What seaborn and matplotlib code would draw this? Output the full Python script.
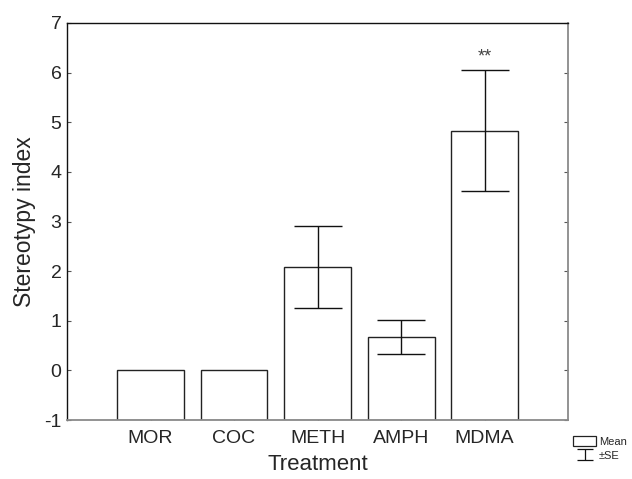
import numpy as np
import pandas as pd
import matplotlib
matplotlib.use('Agg')
import matplotlib.pyplot as plt
import seaborn as sns
from matplotlib.patches import Patch

## Data
treatments = ['MOR', 'COC', 'METH', 'AMPH', 'MDMA']
means = [0.0, 0.0, 2.09, 0.67, 4.83]
se = [0.0, 0.0, 0.83, 0.34, 1.22]
stars = ['', '', '', '', '**']

df = pd.DataFrame({'Treatment': treatments, 'Mean': means, 'SE': se})

sns.set_style('white')
plt.rcParams['font.family'] = ['Liberation Sans', 'DejaVu Sans']
plt.rcParams['axes.unicode_minus'] = False

fig = plt.figure(figsize=(6.32, 4.79), dpi=100)
ax = fig.add_axes([0.106, 0.123, 0.793, 0.829])

sns.barplot(data=df, x='Treatment', y='Mean', color='white', edgecolor='#222222',
            linewidth=1.0, width=0.8, errorbar=None, ax=ax)

## bars start at the bottom of the axis (-1), like the original software
ymin = -1
for p in ax.patches:
    h = p.get_height()
    p.set_y(ymin)
    p.set_height(h - ymin)

idx = np.arange(len(treatments))
has_err = df['SE'] > 0
ax.errorbar(idx[has_err], df['Mean'][has_err], yerr=df['SE'][has_err], fmt='none',
            ecolor='#111111', elinewidth=1.0, capsize=17, capthick=1.0, zorder=5)

for i, s in enumerate(stars):
    if s:
        ax.text(i, means[i] + se[i] + 0.1, s, ha='center', va='bottom', fontsize=13, color='#444444')

ax.set_xlim(-1, 5)
ax.set_ylim(-1, 7)
ax.set_yticks(range(-1, 8))
ax.set_xlabel('Treatment', fontsize=16, labelpad=5)
ax.set_ylabel('Stereotypy index', fontsize=16.5, labelpad=6)
ax.tick_params(axis='both', labelsize=14, direction='in', length=3, width=0.8, color='#555555')
ax.tick_params(axis='y', right=True, left=True, pad=4)
ax.tick_params(axis='x', bottom=True, pad=7)

for side in ['left', 'top']:
    ax.spines[side].set_color('#111111')
    ax.spines[side].set_linewidth(1.0)
for side in ['right', 'bottom']:
    ax.spines[side].set_color('#8a8a8a')
    ax.spines[side].set_linewidth(1.3)

## small legend handle for the error bar symbol
eb_key = ax.errorbar([np.nan], [np.nan], yerr=[1], fmt='none', ecolor='#111111',
                     elinewidth=0.9, capsize=6, capthick=0.9)
handles = [Patch(facecolor='white', edgecolor='#222222', linewidth=0.9), eb_key]
fig.legend(handles, ['Mean', '\u00b1SE'], loc='lower left', bbox_to_anchor=(0.895, 0.022),
           frameon=False, fontsize=8, handlelength=2.0, handleheight=1.05,
           handletextpad=0.3, labelspacing=0.25, borderpad=0.2)

plt.savefig('out.png', dpi=100)
